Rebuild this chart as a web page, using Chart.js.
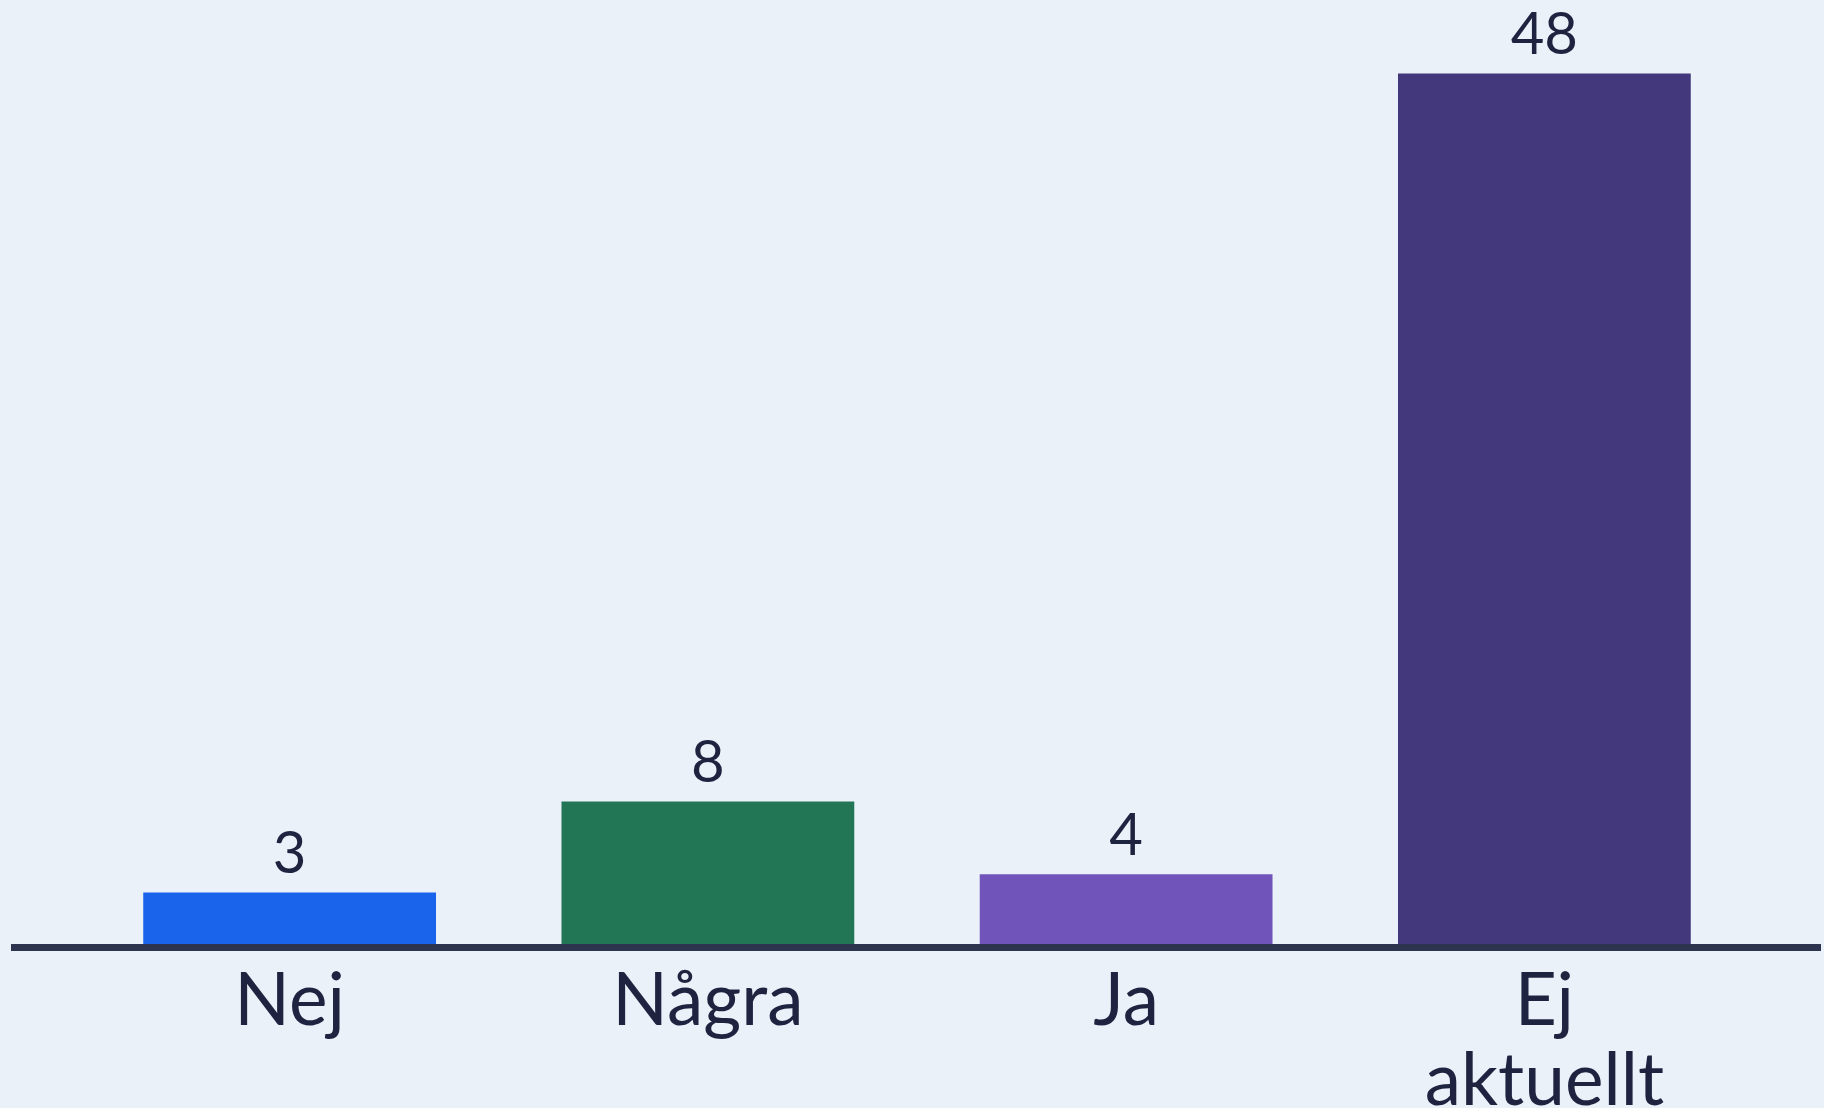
<!DOCTYPE html>
<html>
<head>
<meta charset="utf-8">
<script src="https://cdn.jsdelivr.net/npm/chart.js@4/dist/chart.umd.min.js"></script>
<style>
  html, body { margin: 0; padding: 0; background: #eaf1f9; }
  #wrap { width: 1824px; height: 1108px; }
</style>
</head>
<body>
<div id="wrap"><canvas id="myChart" width="1824" height="1108"></canvas></div>
<script>
// svar
const labels = [["Nej"], ["Några"], ["Ja"], ["Ej", "aktuellt"]];
const values = [3, 8, 4, 48];
const colors = ["#1a64ec", "#227656", "#7054ba", "#42387b"];

var textColor = "#1e2340";

// etiketter ovanfor staplarna
const valueLabels = {
  id: "valueLabels",
  afterDatasetsDraw(chart) {
    const ctx = chart.ctx;
    const meta = chart.getDatasetMeta(0);
    ctx.save();
    ctx.font = "58px Lato";
    ctx.fillStyle = textColor;
    ctx.textAlign = "center";
    ctx.textBaseline = "alphabetic";
    meta.data.forEach((bar, i) => {
      ctx.fillText(values[i], bar.x, bar.y - 19);
    });
    ctx.restore();
  }
};

new Chart("myChart", {
  type: "bar",
  data: {
    datasets: [{
      data: values.map((v, i) => ({ x: i, y: v })),
      backgroundColor: colors,
      borderWidth: 0,
      categoryPercentage: 1,
      barPercentage: 0.70
    }]
  },
  options: {
    responsive: false,
    animation: false,
    events: [],
    layout: { padding: { top: 37, left: 14, right: 4, bottom: 0 } },
    plugins: {
      legend: { display: false },
      tooltip: { enabled: false }
    },
    scales: {
      x: {
        type: "linear",
        offset: false,
        bounds: "data",
        min: -0.659,
        max: 3.659,
        afterBuildTicks: axis => { axis.ticks = labels.map((l, i) => ({ value: i })); },
        afterFit: axis => { axis.height = 1108 - 947; },
        grid: { display: false, drawTicks: false, offset: false },
        border: { display: true, color: "#2d3450", width: 7, z: 1 },
        ticks: {
          autoSkip: false,
          maxRotation: 0,
          padding: 14,
          color: textColor,
          font: { family: "Lato", size: 73, lineHeight: 1.1 },
          callback: (v) => labels[v]
        }
      },
      y: {
        display: false,
        min: 0,
        max: 50
      }
    }
  },
  plugins: [valueLabels]
});
</script>
</body>
</html>
